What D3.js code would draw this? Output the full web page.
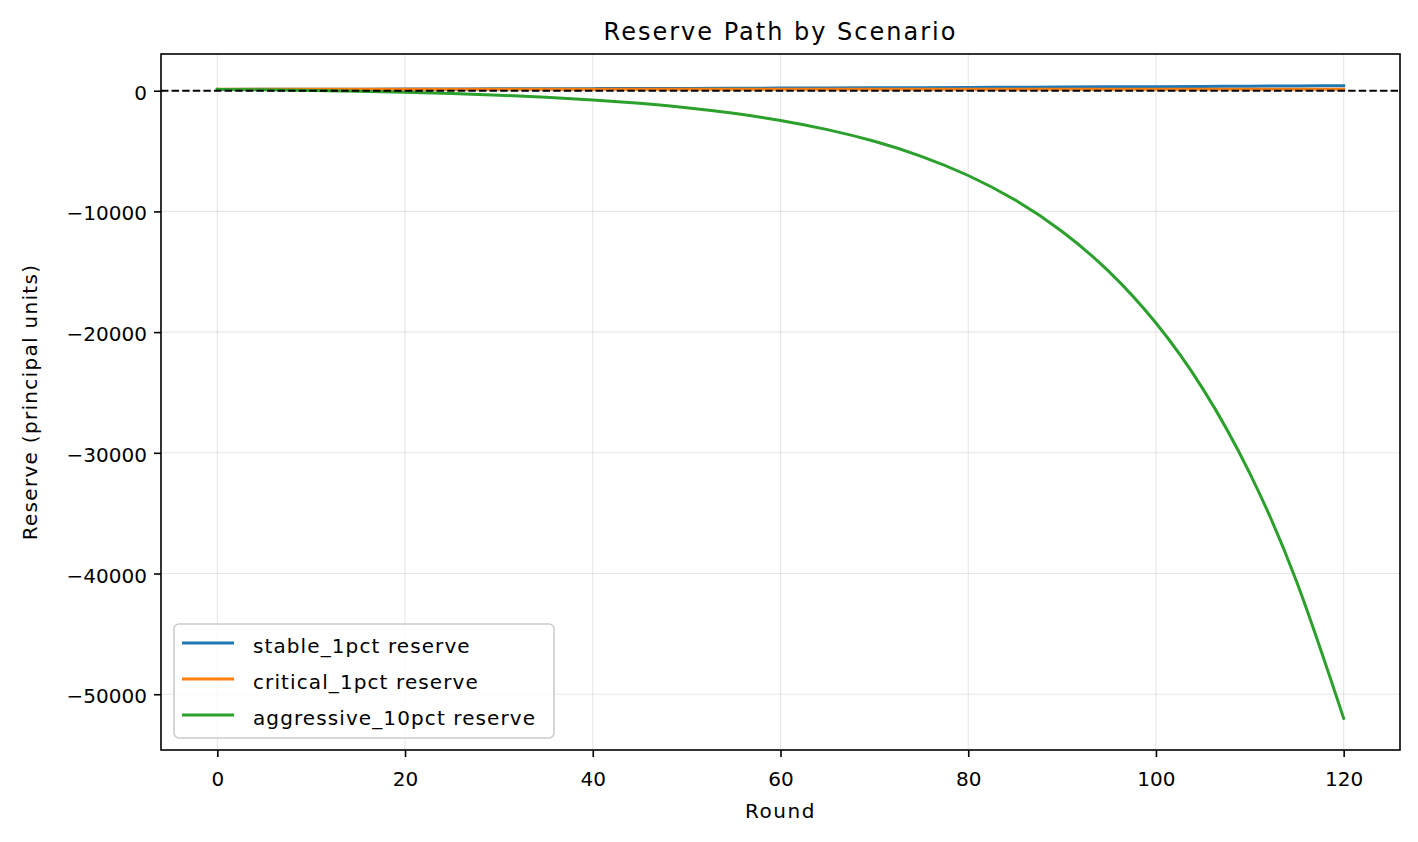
<!DOCTYPE html>
<html>
<head>
<meta charset="utf-8">
<script src="https://cdn.jsdelivr.net/npm/d3@7"></script>
<style>
  html, body { margin: 0; padding: 0; background: #ffffff; }
  svg { display: block; font-family: "DejaVu Sans", sans-serif; }
</style>
</head>
<body>
<svg id="chart" width="1418" height="842"></svg>
<script>
// ---- data ----
const rounds = [0, 5, 10, 15, 20, 25, 30, 35, 40, 45, 50, 55, 60, 65, 70, 75, 80, 85, 90, 95, 100, 105, 110, 115, 120];
const stableReserve = [110, 116, 123, 130, 138, 145, 154, 162, 172, 182, 192, 203, 215, 227, 240, 254, 269, 284, 301, 318, 336, 356, 376, 398, 420];
const criticalReserve = [120, 120, 120, 120, 120, 120, 120, 120, 120, 120, 120, 120, 120, 120, 120, 120, 120, 120, 120, 120, 120, 120, 120, 120, 120];
const aggressiveReserve = [111, 72, 21, -43, -126, -232, -367, -540, -761, -1044, -1406, -1870, -2463, -3222, -4193, -5435, -7025, -9059, -11661, -14991, -19250, -24700, -31700, -40700, -52000];
const seriesNames = ["stable_1pct reserve", "critical_1pct reserve", "aggressive_10pct reserve"];
const seriesColors = ["#1f77b4", "#ff7f0e", "#2ca02c"];
const xTicks = [0, 20, 40, 60, 80, 100, 120];
const yTicks = [-50000, -40000, -30000, -20000, -10000, 0];
const titleText = "Reserve Path by Scenario";
const xLabel = "Round";
const yLabel = "Reserve (principal units)";

// ---- layout ----
const W = 1418, H = 842;
const plot = { left: 161, right: 1400, top: 54, bottom: 750 };
const svg = d3.select("#chart");
svg.append("rect").attr("width", W).attr("height", H).attr("fill", "#ffffff");

const series = [stableReserve, criticalReserve, aggressiveReserve];

// matplotlib-like 5% margins
const xMin = d3.min(rounds), xMax = d3.max(rounds);
const xPad = (xMax - xMin) * 0.05;
const allVals = series.flat();
const yMin = d3.min(allVals), yMax = d3.max(allVals);
const yPad = (yMax - yMin) * 0.05;

const x = d3.scaleLinear().domain([xMin - xPad, xMax + xPad]).range([plot.left, plot.right]);
const y = d3.scaleLinear().domain([yMin - yPad, yMax + yPad]).range([plot.bottom, plot.top]);

const fmt = v => (v < 0 ? "\u2212" + Math.abs(v) : String(v));

// grid
const grid = svg.append("g");
grid.selectAll(".gx").data(xTicks).enter().append("line")
  .attr("x1", d => x(d)).attr("x2", d => x(d))
  .attr("y1", plot.top).attr("y2", plot.bottom)
  .attr("stroke", "#b0b0b0").attr("stroke-opacity", 0.3).attr("stroke-width", 1.1);
grid.selectAll(".gy").data(yTicks).enter().append("line")
  .attr("x1", plot.left).attr("x2", plot.right)
  .attr("y1", d => y(d)).attr("y2", d => y(d))
  .attr("stroke", "#b0b0b0").attr("stroke-opacity", 0.3).attr("stroke-width", 1.1);

// clip
svg.append("clipPath").attr("id", "clip").append("rect")
  .attr("x", plot.left).attr("y", plot.top)
  .attr("width", plot.right - plot.left).attr("height", plot.bottom - plot.top);

const line = d3.line()
  .x((d, i) => x(rounds[i]))
  .y(d => y(d))
  .curve(d3.curveNatural);

const linesG = svg.append("g").attr("clip-path", "url(#clip)");
series.forEach((s, i) => {
  linesG.append("path")
    .attr("d", line(s))
    .attr("fill", "none")
    .attr("stroke", seriesColors[i])
    .attr("stroke-width", 3)
    .attr("stroke-linejoin", "round")
    .attr("stroke-linecap", "square");
});

// zero reference line
linesG.append("line")
  .attr("x1", plot.left).attr("x2", plot.right)
  .attr("y1", y(0)).attr("y2", y(0))
  .attr("stroke", "#000").attr("stroke-width", 2)
  .attr("stroke-dasharray", "7.4,3.2");

// axes
const xAxis = d3.axisBottom(x).tickValues(xTicks).tickFormat(fmt).tickSize(7).tickPadding(6);
const yAxis = d3.axisLeft(y).tickValues(yTicks).tickFormat(fmt).tickSize(7).tickPadding(7);

const gx = svg.append("g").attr("transform", `translate(0,${plot.bottom})`).call(xAxis);
gx.select(".domain").remove();
gx.selectAll(".tick line").attr("stroke", "#000").attr("stroke-width", 1.6);
gx.selectAll(".tick text").attr("font-size", 20).attr("fill", "#000")
  .attr("font-family", "DejaVu Sans").attr("y", 35.5).attr("dy", 0);

const gy = svg.append("g").attr("transform", `translate(${plot.left},0)`).call(yAxis);
gy.select(".domain").remove();
gy.selectAll(".tick line").attr("stroke", "#000").attr("stroke-width", 1.6);
gy.selectAll(".tick text").attr("font-size", 20).attr("fill", "#000")
  .attr("font-family", "DejaVu Sans").attr("x", -14).attr("dy", 8.5);

// frame
svg.append("rect")
  .attr("x", plot.left).attr("y", plot.top)
  .attr("width", plot.right - plot.left).attr("height", plot.bottom - plot.top)
  .attr("fill", "none").attr("stroke", "#000").attr("stroke-width", 1.6);

// title and labels
svg.append("text").attr("x", (plot.left + plot.right) / 2).attr("y", 40)
  .attr("text-anchor", "middle").attr("font-size", 24).attr("letter-spacing", 2)
  .attr("fill", "#000").text(titleText);
svg.append("text").attr("x", (plot.left + plot.right) / 2).attr("y", 818)
  .attr("text-anchor", "middle").attr("font-size", 20).attr("letter-spacing", 1.5)
  .attr("fill", "#000").text(xLabel);
svg.append("text")
  .attr("transform", `translate(37,${(plot.top + plot.bottom) / 2}) rotate(-90)`)
  .attr("text-anchor", "middle").attr("font-size", 20).attr("letter-spacing", 1.3)
  .attr("fill", "#000").text(yLabel);

// legend
const lg = svg.append("g");
lg.append("rect").attr("x", 174).attr("y", 624).attr("width", 380).attr("height", 114)
  .attr("rx", 5).attr("ry", 5)
  .attr("fill", "#ffffff").attr("fill-opacity", 0.8)
  .attr("stroke", "#cccccc").attr("stroke-width", 1.6);
seriesNames.forEach((name, i) => {
  const ly = 643 + i * 36;
  lg.append("line").attr("x1", 182).attr("x2", 234).attr("y1", ly).attr("y2", ly)
    .attr("stroke", seriesColors[i]).attr("stroke-width", 3);
  lg.append("text").attr("x", 253).attr("y", ly + 9.5)
    .attr("font-size", 20).attr("letter-spacing", 1.1).attr("fill", "#000").text(name);
});
</script>
</body>
</html>
